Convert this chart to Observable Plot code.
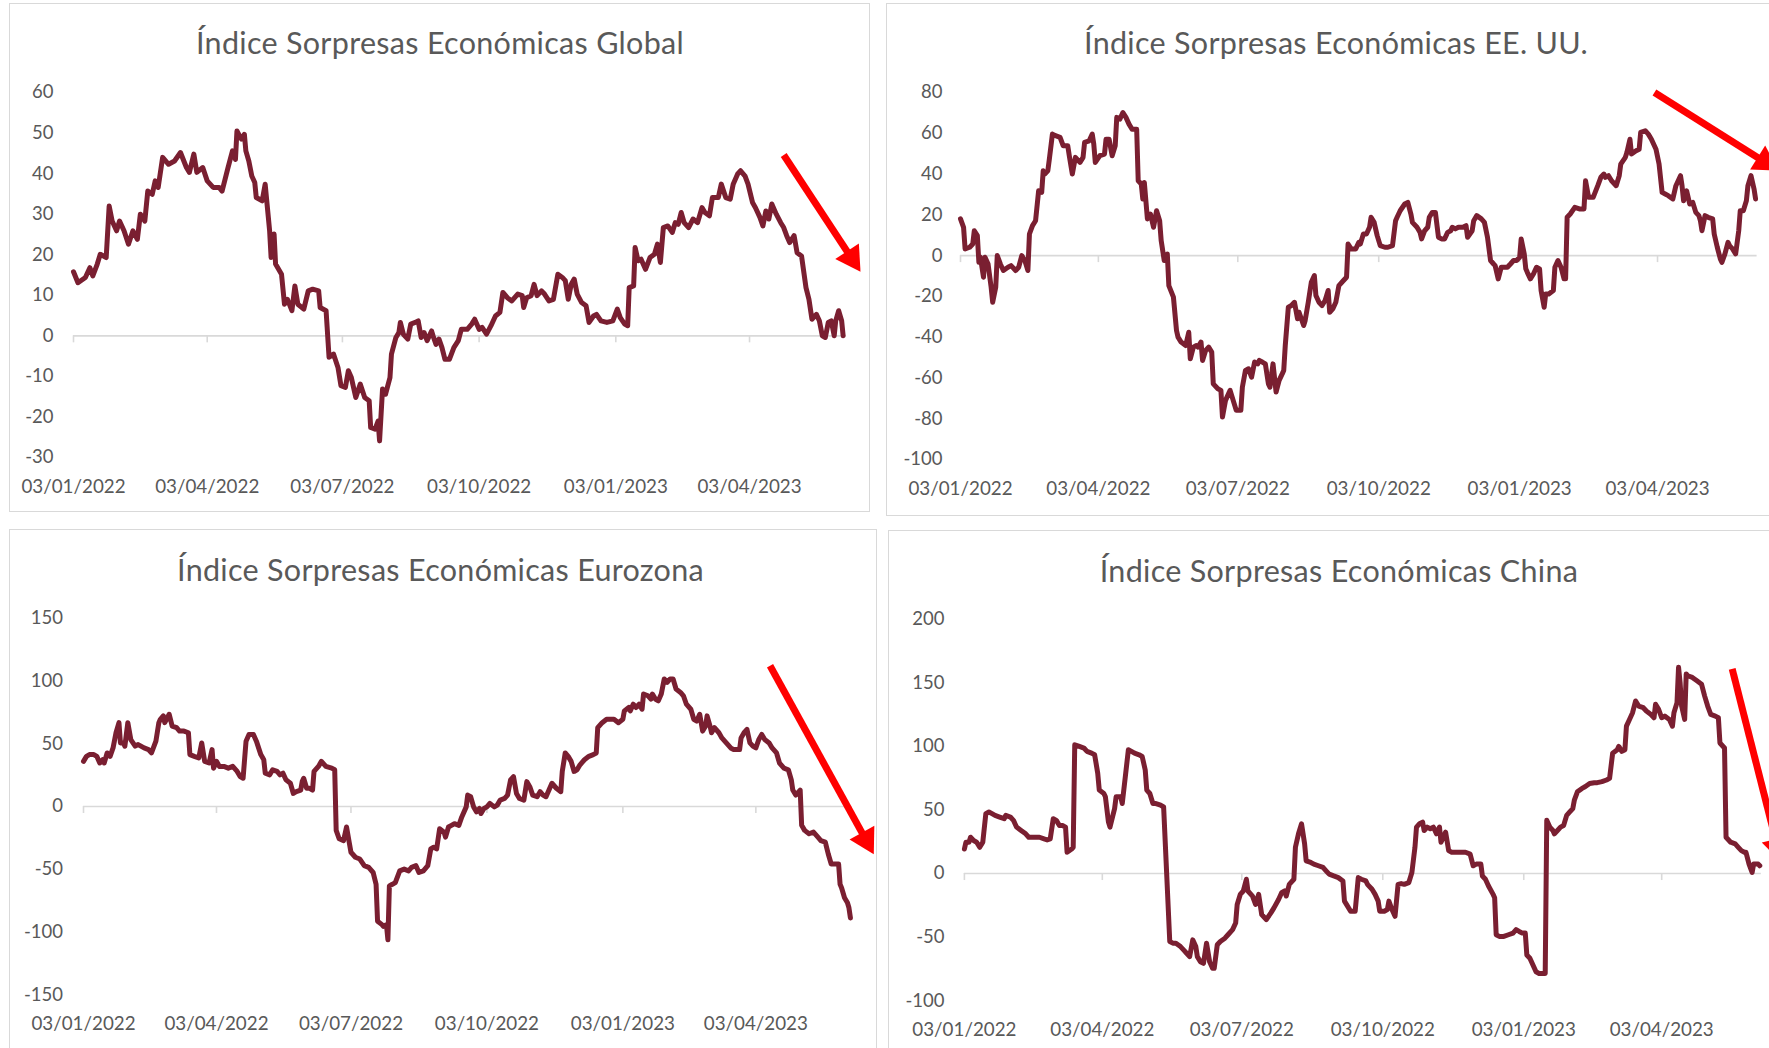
<!DOCTYPE html>
<html>
<head>
<meta charset="utf-8">
<script src="https://cdn.jsdelivr.net/npm/d3@7"></script>
<script src="https://cdn.jsdelivr.net/npm/@observablehq/plot@0.6"></script>
<style>
html, body { margin: 0; padding: 0; background: #ffffff; }
#page { position: relative; width: 1769px; height: 1048px; overflow: hidden; background: #ffffff; font-family: Lato, "Open Sans", sans-serif; }
.panel { position: absolute; border: 1.5px solid #d9d9d9; box-sizing: border-box; }
.title { position: absolute; width: 900px; text-align: center; color: #595959; font-family: Lato, "Open Sans", sans-serif; font-weight: 400; font-size: 30.5px; letter-spacing: 0.3px; line-height: 40px; white-space: nowrap; }
</style>
</head>
<body>
<div id="page"></div>
<script>
// ---------- data (day offset from 03/01/2022, index value) ----------
const baseDate = "2022-01-03";
const tickDates = ["2022-01-03", "2022-04-03", "2022-07-03", "2022-10-03", "2023-01-03", "2023-04-03"];

const titles = [
  "Índice Sorpresas Económicas Global",
  "Índice Sorpresas Económicas EE. UU.",
  "Índice Sorpresas Económicas Eurozona",
  "Índice Sorpresas Económicas China"
];

const globalTicks = [60, 50, 40, 30, 20, 10, 0, -10, -20, -30];
const usTicks = [80, 60, 40, 20, 0, -20, -40, -60, -80, -100];
const euroTicks = [150, 100, 50, 0, -50, -100, -150];
const chinaTicks = [200, 150, 100, 50, 0, -50, -100];

const globalSeries = [[0,15.8],[3,13.1],[8,14.4],[11,16.8],[13,14.8],[16,17.7],[18,20.1],[22,19.3],[24,32],[26,28.3],[29,25.9],[31,28.3],[34,25.9],[37,22.6],[40,25.9],[43,23.8],[45,30],[48,28.3],[50,35.7],[53,34.9],[55,38.2],[57,36.6],[60,44],[64,42.3],[68,43.1],[72,45.2],[76,41.5],[78,40.3],[81,44.8],[83,40.3],[87,41.5],[90,38.2],[94,36.6],[98,36.6],[100,35.7],[104,41.5],[107,45.6],[109,43.5],[110,50.5],[113,48.5],[115,49.7],[116,45.6],[118,43.1],[120,39.4],[122,37.8],[123,34.1],[127,33.3],[129,37.4],[132,25.9],[133,19.3],[135,25.1],[136,17.7],[140,15.2],[142,7.8],[144,9],[147,6.2],[149,12.3],[151,7.8],[155,6.6],[158,11.1],[161,11.5],[165,11.1],[166,7],[170,6.2],[172,-5.3],[175,-4.5],[178,-7.8],[180,-12.3],[183,-12.7],[185,-8.6],[187,-10.3],[190,-15.2],[193,-11.9],[196,-15.2],[199,-16],[200,-22.6],[203,-23],[205,-21],[206,-25.9],[208,-13.1],[210,-14.4],[213,-10.3],[214,-4.5],[217,-0.4],[219,0.8],[220,3.3],[222,0.4],[225,-0.8],[227,2.9],[230,3.3],[232,3.7],[234,-0.4],[236,0.8],[238,-1.2],[241,1.2],[242,0],[244,-2.1],[246,-0.8],[248,-2.9],[250,-5.8],[253,-5.8],[256,-2.9],[259,-1.2],[261,1.6],[265,1.6],[268,2.9],[270,4.1],[273,1.6],[275,2.1],[278,0.4],[281,2.5],[284,4.9],[287,5.8],[289,10.7],[292,9.4],[295,8.6],[299,10.3],[302,9.9],[303,7],[305,9.4],[308,9.9],[310,12.7],[312,9.9],[315,11.1],[317,10.3],[320,8.6],[323,9],[326,15.2],[329,14.4],[331,13.6],[333,9],[335,12.7],[337,14],[339,10.3],[342,8.2],[345,7.4],[347,3.3],[350,4.9],[352,5.3],[355,3.7],[359,3.3],[363,3.7],[366,6.6],[368,4.5],[371,2.9],[373,2.5],[374,11.9],[377,12.3],[378,21.8],[380,18.5],[382,18.9],[385,16.4],[388,19.3],[391,20.1],[393,22.6],[395,18.1],[397,26.7],[400,27.1],[403,25.5],[405,27.9],[407,27.5],[409,30.4],[411,27.9],[414,26.7],[417,28.8],[420,27.9],[423,31.6],[425,30.4],[428,29.6],[430,34.1],[434,34.1],[436,37.4],[439,34.1],[442,33.7],[444,37.4],[447,39.9],[449,40.7],[452,39.4],[454,37.4],[457,32.9],[459,31.6],[462,29.2],[464,27.1],[466,30.8],[468,28.8],[470,32.5],[473,30],[476,27.9],[478,26.7],[480,24.7],[482,23],[485,24.7],[487,20.5],[490,19.7],[493,11.9],[495,9],[497,4.1],[500,5.3],[502,3.7],[504,0],[506,-0.4],[508,3.3],[510,3.7],[512,0],[513,3.7],[515,6.2],[517,3.7],[518,0]];

const usSeries = [[0,18],[2,13.9],[3,3.3],[6,4.1],[8,5.7],[9,12.2],[11,9.8],[12,-3.3],[13,-0.8],[15,-10.6],[16,-0.8],[18,-4.1],[20,-15.5],[21,-22.9],[23,-15.5],[24,0],[26,-4.1],[28,-7.3],[31,-5.7],[33,-4.9],[36,-7.3],[38,-5.7],[40,0],[42,-2.4],[44,-7.3],[45,10.6],[47,14.7],[49,17.1],[51,31.8],[53,31],[54,41.6],[55,40],[57,41.6],[58,47.3],[60,59.6],[62,58.8],[65,58],[67,53.9],[70,53.9],[71,49],[73,40],[75,48.2],[78,45.7],[80,48.2],[81,55.5],[84,56.3],[86,59.6],[87,54.7],[88,45.7],[91,49],[94,49.8],[95,57.1],[97,57.1],[99,49],[101,53.9],[102,67.8],[104,66.9],[106,70.2],[108,67.8],[110,64.5],[112,62],[115,62],[116,36.7],[118,35.1],[119,27.8],[120,35.9],[122,18],[124,20.4],[126,13.9],[128,22],[130,17.1],[131,7.3],[133,-2.4],[135,0.8],[136,-14.7],[139,-20.4],[141,-36.7],[142,-40],[144,-42.4],[147,-44.1],[149,-37.6],[150,-50.6],[152,-44.9],[154,-44.1],[155,-44.9],[157,-42.4],[158,-51.4],[160,-46.5],[162,-44.9],[164,-47.3],[165,-62.9],[168,-65.3],[170,-66.1],[171,-79.2],[173,-71],[176,-66.1],[178,-71],[180,-75.9],[183,-75.9],[184,-64.5],[186,-56.3],[188,-55.5],[190,-59.6],[192,-52.2],[194,-53.1],[195,-51.4],[197,-52.2],[199,-53.1],[201,-62.9],[202,-64.5],[204,-53.1],[206,-66.9],[208,-61.2],[210,-58],[211,-56.3],[212,-44.1],[214,-25.3],[216,-24.5],[218,-22.9],[220,-31],[221,-27.8],[224,-34.3],[225,-31.8],[227,-22.9],[229,-13.1],[231,-9.8],[232,-19.6],[234,-22.9],[236,-24.5],[238,-22],[240,-17.1],[241,-27.8],[243,-26.1],[245,-22.9],[247,-14.7],[250,-12.2],[252,-10.6],[253,5.7],[255,3.3],[258,3.3],[260,6.5],[261,5.7],[263,10.6],[265,10.6],[267,13.9],[268,18.8],[270,16.3],[272,9.8],[274,4.9],[277,4.1],[279,4.1],[282,4.9],[284,17.1],[285,18.8],[287,22],[290,25.3],[292,26.1],[294,20.4],[295,16.3],[298,13.9],[300,11.4],[301,8.2],[303,12.2],[305,13.9],[306,18.8],[308,21.2],[310,21.2],[312,9],[314,8.2],[316,8.2],[318,11.4],[320,12.2],[321,13.9],[323,13.1],[325,13.9],[328,13.9],[330,14.7],[331,9],[334,12.2],[335,17.1],[337,19.6],[340,18],[342,16.3],[344,9],[346,-2.4],[348,-4.1],[349,-4.9],[351,-11.4],[353,-5.7],[355,-5.7],[357,-5.7],[359,-4.1],[361,-2.4],[363,-2.4],[365,-0.8],[366,8.2],[368,0.8],[369,-6.5],[370,-8.2],[372,-11.4],[374,-9],[376,-5.7],[378,-6.5],[379,-17.1],[381,-25.3],[382,-18.8],[384,-18.8],[387,-17.1],[388,-5.7],[390,-2.4],[392,-5.7],[394,-11.4],[395,-11.4],[396,18.8],[398,20.4],[401,23.7],[404,22.9],[407,22.9],[408,36.7],[410,28.6],[413,28.6],[416,34.3],[418,38.4],[420,40],[421,38.4],[423,39.2],[425,36.7],[428,34.3],[430,39.2],[431,44.9],[434,48.2],[435,50.6],[437,57.1],[438,49.8],[441,51.4],[443,52.2],[444,60.4],[447,61.2],[449,59.6],[451,57.1],[454,52.2],[456,44.9],[458,31],[460,30.2],[462,29.4],[465,27.8],[467,34.3],[470,39.2],[471,34.3],[472,26.9],[474,31.8],[476,25.3],[478,26.1],[480,21.2],[482,19.6],[483,17.1],[484,12.2],[486,19.6],[488,18.8],[491,18],[492,10.6],[494,4.1],[496,-1.6],[497,-3.3],[499,0.8],[501,6.5],[502,4.9],[504,3.3],[506,0.8],[508,12.2],[509,22],[511,22],[513,26.9],[514,34.3],[516,39.2],[518,32.7],[519,27.8]];

const euroSeries = [[0,35.9],[2,39.9],[4,41.3],[7,41.3],[9,39.9],[11,34.6],[13,37.2],[14,34.6],[16,42.6],[18,39.9],[20,46.6],[22,58.7],[24,66.7],[25,50.6],[27,50.6],[28,48],[30,66.7],[32,53.3],[35,48],[37,49.3],[41,46.6],[44,45.3],[46,42.6],[49,52],[51,66.7],[52,69.4],[54,72.1],[55,66.7],[58,73.4],[60,64],[63,62.7],[65,60],[68,60],[71,58.7],[72,41.3],[75,39.9],[78,38.6],[80,50.6],[82,35.9],[85,34.6],[87,45.3],[88,30.5],[90,35.9],[92,31.9],[95,31.9],[98,30.5],[101,31.9],[104,27.9],[106,23.8],[108,22.5],[110,52],[112,57.3],[115,57.3],[117,52],[120,41.3],[122,37.2],[123,26.5],[126,25.2],[128,29.2],[131,27.9],[133,25.2],[135,26.5],[137,21.2],[140,18.5],[142,10.4],[144,11.8],[147,13.1],[148,19.8],[149,22.5],[151,14.5],[153,14.5],[155,13.1],[156,27.9],[159,31.9],[161,35.9],[164,31.9],[168,30.5],[170,29.2],[171,-19],[173,-25.7],[176,-27.1],[178,-16.3],[180,-29.7],[181,-36.4],[184,-40.4],[187,-41.8],[190,-47.1],[193,-48.5],[196,-52.5],[198,-61.9],[199,-91.3],[202,-94],[203,-95.4],[205,-94],[206,-106.1],[207,-63.2],[209,-61.9],[211,-60.5],[214,-51.2],[217,-49.8],[220,-51.2],[222,-48.5],[225,-47.1],[227,-52.5],[230,-51.2],[233,-47.1],[235,-33.8],[237,-32.4],[239,-33.8],[241,-17.7],[244,-20.4],[245,-24.4],[247,-16.3],[249,-15],[251,-13.7],[254,-15],[256,-8.3],[259,-0.3],[260,9.1],[262,7.8],[264,-0.3],[266,-4.3],[268,-1.6],[269,-5.6],[271,-1.6],[273,-0.3],[275,2.4],[278,-0.3],[280,1.1],[282,5.1],[285,6.4],[287,9.1],[289,21.2],[291,23.8],[293,10.4],[295,6.4],[298,5.1],[300,19.8],[302,15.8],[304,9.1],[307,7.8],[309,11.8],[311,9.1],[313,7.8],[315,13.1],[317,18.5],[320,14.5],[323,11.8],[324,27.9],[326,42.6],[328,39.9],[330,35.9],[332,27.9],[334,29.2],[336,33.2],[339,37.2],[342,39.9],[345,41.3],[347,42.6],[348,62.7],[351,66.7],[354,69.4],[356,69.4],[359,69.4],[362,66.7],[365,69.4],[366,76.1],[369,78.8],[370,76.1],[372,81.4],[374,78.8],[376,81.4],[378,77.4],[379,89.5],[382,88.1],[384,85.5],[385,89.5],[387,85.5],[389,84.1],[391,89.5],[393,101.5],[395,98.8],[397,101.5],[399,101.5],[401,93.5],[404,90.8],[406,88.1],[408,81.4],[411,77.4],[413,69.4],[415,68],[417,73.4],[419,60],[421,64],[422,72.1],[424,64],[425,58.7],[427,62.7],[430,58.7],[432,54.6],[435,50.6],[438,46.6],[440,45.3],[444,45.3],[445,54.6],[447,58.7],[449,61.3],[451,50.6],[453,48],[455,46.6],[457,53.3],[459,57.3],[461,53.3],[464,50.6],[466,46.6],[469,42.6],[471,34.6],[474,30.5],[477,29.2],[479,21.2],[480,13.1],[482,9.1],[485,13.1],[486,-15],[488,-19],[491,-21.7],[494,-20.4],[497,-24.4],[499,-27.1],[502,-28.4],[504,-37.8],[506,-45.8],[508,-45.8],[511,-45.8],[512,-61.9],[513,-64.6],[515,-72.6],[517,-76.6],[518,-80.6],[519,-88.7]];

const chinaSeries = [[0,19.3],[1,24.6],[3,24.6],[4,28.5],[6,25.9],[8,24.6],[10,20.6],[12,24.6],[14,47.1],[16,48.4],[18,47.1],[20,45.7],[23,44.4],[26,43.1],[27,45.7],[30,44.4],[32,41.8],[34,36.5],[37,33.8],[40,31.2],[42,28.5],[45,28.5],[49,28.5],[52,27.2],[54,26.4],[56,27.2],[58,43.1],[60,41.8],[62,37.8],[64,37.8],[66,36.5],[67,16.7],[70,19.3],[71,20.6],[72,101.2],[75,99.9],[78,98.6],[80,96],[83,94.6],[85,93.3],[87,78.8],[88,65.6],[91,62.9],[92,60.3],[94,40.4],[95,36.5],[98,51],[99,60.3],[102,60.3],[103,55],[105,76.1],[107,97.3],[109,96],[111,94.6],[114,93.3],[116,92],[118,81.4],[119,65.6],[121,62.9],[123,55],[125,55],[128,53.7],[130,52.3],[132,-0.5],[134,-53.4],[136,-54.7],[138,-54.7],[141,-57.4],[143,-60],[145,-62.6],[147,-65.3],[149,-52.1],[151,-57.4],[152,-65.3],[154,-69.3],[156,-70.6],[158,-54.7],[160,-69.3],[162,-74.5],[163,-74.5],[165,-56],[167,-53.4],[170,-50.8],[172,-48.1],[175,-44.1],[177,-38.9],[178,-24.3],[180,-16.4],[182,-13.7],[184,-4.5],[185,-13.7],[188,-17.7],[190,-24.3],[192,-16.4],[194,-32.2],[197,-36.2],[200,-30.9],[202,-27],[205,-20.4],[207,-15.1],[209,-13.7],[210,-17.7],[212,-8.5],[215,-4.5],[216,20.6],[218,31.2],[220,39.1],[222,23.3],[223,10],[226,8.7],[228,7.4],[231,6.1],[234,4.8],[236,2.1],[238,-0.5],[241,-1.9],[244,-3.2],[247,-5.8],[248,-21.7],[250,-25.6],[252,-29.6],[255,-29.6],[257,-3.2],[259,-4.5],[262,-5.8],[263,-8.5],[266,-12.4],[268,-16.4],[270,-21.7],[271,-29.6],[274,-29.6],[276,-28.3],[277,-21.7],[279,-28.3],[281,-33.6],[283,-8.5],[285,-7.9],[287,-8.5],[290,-7.1],[292,0.8],[294,20.6],[295,36.5],[297,39.1],[299,40.4],[300,33.8],[302,36.5],[304,35.2],[306,36.5],[308,31.2],[310,36.5],[311,24.6],[313,29.9],[314,32.5],[316,18],[318,16.7],[321,16.7],[324,16.7],[327,16.7],[330,15.3],[332,6.1],[334,7.4],[337,7.4],[338,-1.9],[340,-4.5],[342,-9.8],[345,-16.4],[346,-19],[347,-48.1],[349,-49.4],[352,-49.4],[355,-48.1],[358,-46.8],[360,-44.1],[362,-45.5],[364,-46.8],[366,-46.8],[367,-64],[369,-66.6],[371,-71.9],[373,-77.2],[375,-78.5],[377,-78.5],[379,-78.5],[380,41.8],[382,36.5],[384,33.8],[385,31.2],[387,33.8],[389,36.5],[391,37.8],[393,45.7],[395,48.4],[397,51],[398,57.6],[400,64.2],[403,66.9],[405,68.2],[408,70.8],[411,71.4],[413,71.4],[416,72.2],[419,73.5],[421,74.8],[423,94.6],[426,97.3],[427,99.9],[429,96],[431,97.3],[432,115.8],[434,121.1],[436,126.4],[438,135.6],[440,131.6],[443,130.3],[445,127.7],[448,125],[450,122.4],[451,133],[453,129],[455,122.4],[457,123.7],[460,121.1],[462,115.8],[463,126.4],[465,134.3],[466,162],[467,150.1],[468,131.6],[470,121.1],[471,156.8],[472,155.4],[475,154.1],[478,151.5],[481,148.8],[483,139.6],[485,131.6],[487,125],[490,123.7],[492,122.4],[493,102.6],[496,98.6],[497,28.5],[500,24.6],[503,23.3],[505,20.6],[507,18],[509,16.7],[510,16.7],[512,7.4],[514,0.8],[515,7.4],[518,7.4],[519,6.1]];

// red trend arrows: [startDay, startValue, tipDay, tipValue]
const globalArrow = [478, 44.6, 529.7, 15.8];
const usArrow = [453, 80, 533.9, 41.7];
const euroArrow = [464.6, 112, 534.8, -37.9];
const chinaArrow = [501, 160.8, 533.2, 8.5];

// ---------- helpers ----------
const DAY = 864e5;
const base = new Date(baseDate + "T00:00:00Z");
const toDate = (d) => new Date(base.getTime() + d * DAY);
const endDay = 520;
const lineColor = "#7a1f31";
const gridGray = "#d9d9d9";
const textGray = "#595959";
const fmtDate = d3.utcFormat("%d/%m/%Y");

const page = document.getElementById("page");

const panels = [
  { series: globalSeries, ticks: globalTicks, arrow: globalArrow, title: titles[0],
    box: [9, 3, 861, 509], svgTop: 70, svgH: 442,
    xPage: [73, 845.6], yDomain: [-30, 60], yPage: [457, 92],
    labelRight: 53, dateY: 492, titleCx: 440, titleBase: 53 },
  { series: usSeries, ticks: usTicks, arrow: usArrow, title: titles[1],
    box: [886, 3, 900, 513], svgTop: 70, svgH: 446,
    xPage: [960, 1756.6], yDomain: [-100, 80], yPage: [459, 92],
    labelRight: 942, dateY: 494, titleCx: 1336, titleBase: 53 },
  { series: euroSeries, ticks: euroTicks, arrow: euroArrow, title: titles[2],
    box: [8.5, 529, 868, 530], svgTop: 596, svgH: 452,
    xPage: [82.5, 850.9], yDomain: [-150, 150], yPage: [994.5, 617.5],
    labelRight: 62, dateY: 1029.5, titleCx: 440.5, titleBase: 580 },
  { series: chinaSeries, ticks: chinaTicks, arrow: chinaArrow, title: titles[3],
    box: [888, 529.5, 900, 530], svgTop: 596, svgH: 452,
    xPage: [963.9, 1760.8], yDomain: [-100, 200], yPage: [1000.3, 618.5],
    labelRight: 944, dateY: 1035.5, titleCx: 1339, titleBase: 580.5 }
];

function arrowMarks(arrow, xs, ys) {
  const [d1, v1, d2, v2] = arrow;
  const p1 = [xs(toDate(d1)), ys(v1)];
  const p2 = [xs(toDate(d2)), ys(v2)];
  const len = Math.hypot(p2[0] - p1[0], p2[1] - p1[1]);
  const ux = (p2[0] - p1[0]) / len, uy = (p2[1] - p1[1]) / len;
  const r = 10.5;
  const k = Math.sqrt(Math.PI * r * r / (3 * Math.sqrt(3)));
  const headLen = 3 * k;
  const c = [p2[0] - 2 * k * ux, p2[1] - 2 * k * uy];
  const e = [p2[0] - 0.85 * headLen * ux, p2[1] - 0.85 * headLen * uy];
  const rot = Math.atan2(ux, -uy) * 180 / Math.PI;
  return [
    Plot.link([0], {
      x1: () => toDate(d1), y1: () => v1,
      x2: () => xs.invert(e[0]), y2: () => ys.invert(e[1]),
      stroke: "#ff0000", strokeWidth: 7, strokeLinecap: "butt"
    }),
    Plot.dot([0], {
      x: () => xs.invert(c[0]), y: () => ys.invert(c[1]),
      r, symbol: "triangle", fill: "#ff0000", stroke: "none", rotate: rot
    })
  ];
}

for (const p of panels) {
  const [bx, by, bw, bh] = p.box;
  const border = document.createElement("div");
  border.className = "panel";
  Object.assign(border.style, { left: bx + "px", top: by + "px", width: bw + "px", height: bh + "px" });
  page.appendChild(border);

  const t = document.createElement("div");
  t.className = "title";
  t.textContent = p.title;
  Object.assign(t.style, { left: (p.titleCx - 450) + "px", top: (p.titleBase - 31) + "px" });
  page.appendChild(t);

  const svgW = bw + 30;
  const xRange = [p.xPage[0] - bx, p.xPage[1] - bx];
  const yRange = [p.yPage[0] - p.svgTop, p.yPage[1] - p.svgTop];
  const xDomain = [toDate(0), toDate(endDay)];
  const xs = d3.scaleUtc().domain(xDomain).range(xRange);
  const ys = d3.scaleLinear().domain(p.yDomain).range(yRange);
  const tickEnd = ys.invert(ys(0) + 7);

  const data = p.series.map(([d, v]) => ({ date: toDate(d), value: v }));
  const tickDateObjs = tickDates.map((s) => new Date(s + "T00:00:00Z"));

  const chart = Plot.plot({
    width: svgW,
    height: p.svgH,
    margin: 0,
    x: { type: "utc", domain: xDomain, range: xRange, axis: null },
    y: { type: "linear", domain: p.yDomain, range: yRange, axis: null },
    style: {
      position: "absolute", left: bx + "px", top: p.svgTop + "px",
      overflow: "visible", background: "transparent",
      fontFamily: "Lato, 'Open Sans', sans-serif", maxWidth: "none"
    },
    marks: [
      Plot.ruleY([0], { x1: () => xDomain[0], x2: () => xDomain[1], stroke: gridGray, strokeWidth: 1.6 }),
      Plot.ruleX(tickDateObjs, { x: (d) => d, y1: 0, y2: tickEnd, stroke: gridGray, strokeWidth: 1.6 }),
      Plot.text(p.ticks, {
        y: (d) => d, text: (d) => String(d), frameAnchor: "left", dx: p.labelRight - bx,
        textAnchor: "end", fill: textGray, fontSize: 18.5
      }),
      Plot.text(tickDateObjs, {
        x: (d) => d, text: (d) => fmtDate(d), frameAnchor: "bottom", dy: (p.dateY - p.svgTop) - p.svgH,
        fill: textGray, fontSize: 18.8
      }),
      Plot.line(data, {
        x: "date", y: "value", stroke: lineColor, strokeWidth: 5,
        strokeLinejoin: "round", strokeLinecap: "round"
      }),
      ...arrowMarks(p.arrow, xs, ys)
    ]
  });
  page.appendChild(chart);
}
</script>
</body>
</html>
